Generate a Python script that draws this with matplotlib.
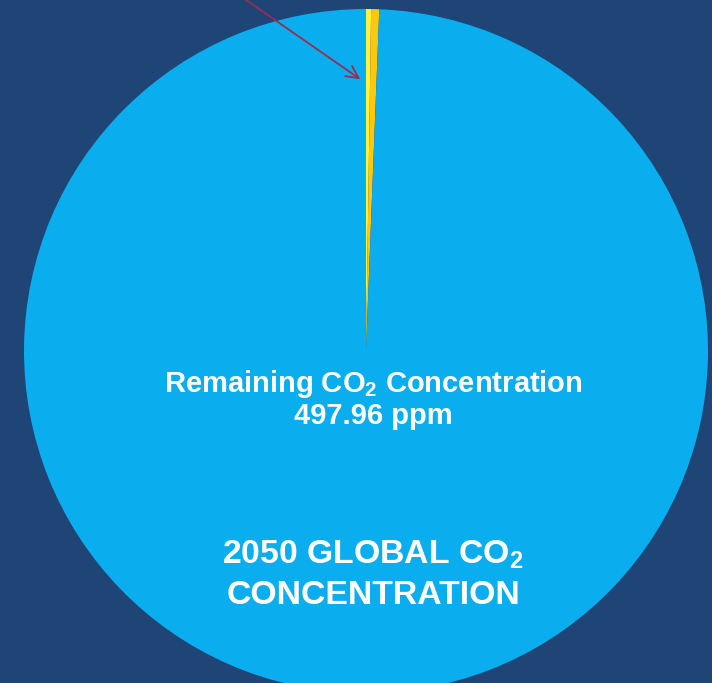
import numpy as np
import matplotlib.pyplot as plt

# 2050 global CO2 concentration (ppm)
categories = ['Reduction A', 'Reduction B', 'Remaining CO$_2$ Concentration']
values = [1.2, 1.9, 497.96]
colors = ['#FFF23A', '#FFC80E', '#0AADEE']

bg = '#1F4576'

plt.rcParams['font.family'] = ['Liberation Sans', 'DejaVu Sans']
plt.rcParams['mathtext.default'] = 'regular'

W, H = 712, 683
cx, cy, r = 366, 351, 342   # pie centre and radius in pixels

fig = plt.figure(figsize=(W / 100, H / 100), dpi=100, facecolor=bg)
ax = fig.add_axes([0, 0, 1, 1])
ax.set_facecolor(bg)

wedges, _ = ax.pie(values, colors=colors, startangle=90, counterclock=False,
                   radius=1, wedgeprops=dict(linewidth=0))

ax.set_xlim(-cx / r, (W - cx) / r)
ax.set_ylim(-(H - cy) / r, cy / r)
ax.set_aspect('equal')
ax.axis('off')

# arrow pointing to the thin slice
w = wedges[0]
ang = np.deg2rad(w.theta2)
target = (0.79 * np.cos(ang) - 0.01, 0.79 * np.sin(ang))
ax.annotate('', xy=target, xytext=(-0.37, 1.04),
            arrowprops=dict(arrowstyle='->', color='#9B2C50', lw=1.3,
                            mutation_scale=22))

tx = (373 - cx) / r
ax.text(tx, (cy - 384) / r, 'Remaining CO$_2$ Concentration', color='white',
        fontsize=21, fontweight='bold', ha='center', va='center')
ax.text(tx, (cy - 416) / r, f'{values[-1]:.2f} ppm', color='white',
        fontsize=21, fontweight='bold', ha='center', va='center')

ax.text(tx, (cy - 555) / r, '2050 GLOBAL CO$_2$', color='white',
        fontsize=24.3, fontweight='bold', ha='center', va='center')
ax.text(tx, (cy - 596) / r, 'CONCENTRATION', color='white',
        fontsize=24.3, fontweight='bold', ha='center', va='center')

fig.savefig('out.png', dpi=100, facecolor=bg)
